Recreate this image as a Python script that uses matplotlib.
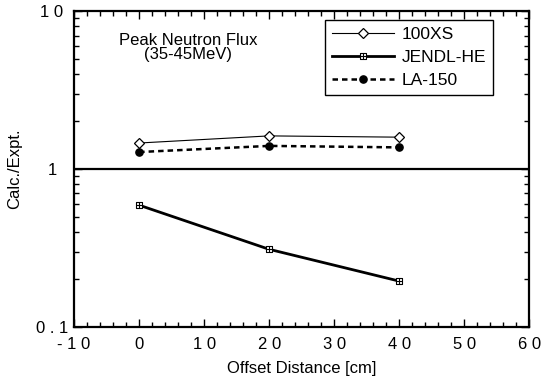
import numpy as np
import matplotlib
matplotlib.use('Agg')
import matplotlib.pyplot as plt
from matplotlib.path import Path
from matplotlib.ticker import FixedLocator, LogLocator, MultipleLocator, NullFormatter

plt.rcParams['font.family'] = ['Liberation Sans', 'DejaVu Sans']

# datos
distancia = [0, 20, 40]
xs100 = [1.46, 1.62, 1.59]
jendl_he = [0.59, 0.31, 0.195]
la150 = [1.28, 1.40, 1.37]

x_ticks = [-10, 0, 10, 20, 30, 40, 50, 60]
x_labels = ['- 1 0', '0', '1 0', '2 0', '3 0', '4 0', '5 0', '6 0']
y_ticks = [0.1, 1, 10]
y_labels = ['0 . 1', '1', '1 0']

# marcador cuadrado con cruz (JENDL-HE)
verts = [(-1, -1), (1, -1), (1, 1), (-1, 1), (-1, -1),
         (0, -1), (0, 1), (-1, 0), (1, 0)]
codes = [Path.MOVETO, Path.LINETO, Path.LINETO, Path.LINETO, Path.CLOSEPOLY,
         Path.MOVETO, Path.LINETO, Path.MOVETO, Path.LINETO]
cuadro_cruz = Path(verts, codes)

fig = plt.figure(figsize=(5.53, 3.81), dpi=100)
ax = fig.add_axes([0.134, 0.142, 0.823, 0.829])

ax.plot(distancia, xs100, color='black', lw=0.8, marker='D', ms=5.2,
        mfc='white', mec='black', mew=0.9, label='100XS')
ax.plot(distancia, jendl_he, color='black', lw=2.0, marker=cuadro_cruz, ms=4.0,
        mfc='white', mec='black', mew=0.8, label='JENDL-HE')
ax.plot(distancia, la150, color='black', lw=1.8, ls=(0, (2.2, 1.6)), marker='o', ms=5.2,
        mfc='black', mec='black', label='LA-150')

ax.axhline(1, color='black', lw=1.6, zorder=1)

ax.set_yscale('log')
ax.set_xlim(-10, 60)
ax.set_ylim(0.1, 10)

ax.xaxis.set_major_locator(FixedLocator(x_ticks))
ax.set_xticklabels(x_labels)
ax.xaxis.set_minor_locator(MultipleLocator(2))
ax.yaxis.set_major_locator(FixedLocator(y_ticks))
ax.set_yticklabels(y_labels)
ax.yaxis.set_minor_locator(LogLocator(base=10, subs=np.arange(2, 10)))
ax.yaxis.set_minor_formatter(NullFormatter())

ax.tick_params(which='both', direction='in', top=True, right=True, width=1.0)
ax.tick_params(which='major', length=6)
ax.tick_params(which='minor', length=3.5)
ax.tick_params(axis='x', which='major', pad=7, labelsize=12)
ax.tick_params(axis='y', which='major', pad=16, labelsize=12)
for lab in ax.get_yticklabels():
    lab.set_horizontalalignment('center')

for s in ax.spines.values():
    s.set_linewidth(1.6)

ax.set_xlabel('Offset Distance [cm]', fontsize=12, labelpad=7)
ax.set_ylabel('Calc./Expt.', fontsize=12, labelpad=10)

ax.text(0.25, 0.885, 'Peak Neutron Flux\n(35-45MeV)', transform=ax.transAxes,
        ha='center', va='center', fontsize=12, linespacing=0.95)

leg = ax.legend(loc='upper right', bbox_to_anchor=(0.921, 0.971), fontsize=12.5,
                handlelength=3.6, fancybox=False, edgecolor='black',
                framealpha=1, borderpad=0.4, labelspacing=0.45, handletextpad=0.45,
                borderaxespad=0)
leg.get_frame().set_linewidth(1.0)

fig.savefig('out.png', dpi=100)
